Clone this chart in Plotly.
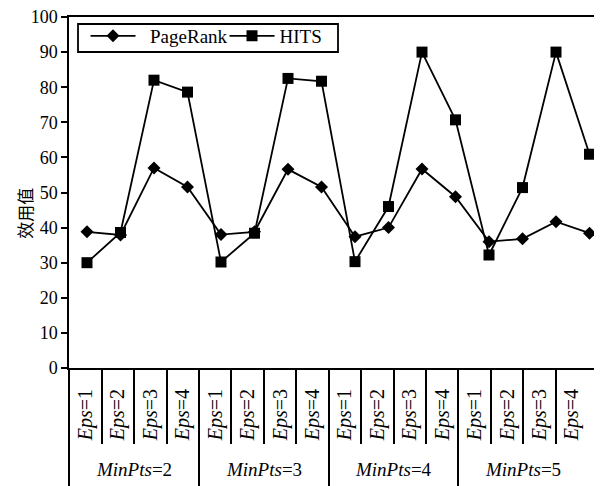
import plotly.graph_objects as go

# ---- data ----
eps_labels = ["Eps=1", "Eps=2", "Eps=3", "Eps=4"]
minpts_labels = ["MinPts=2", "MinPts=3", "MinPts=4", "MinPts=5"]
pagerank = [38.8, 37.9, 57.0, 51.6, 38.0, 38.8, 56.6, 51.6,
            37.4, 40.0, 56.7, 48.8, 36.0, 36.8, 41.7, 38.4]
hits = [30.0, 38.6, 82.0, 78.6, 30.2, 38.4, 82.5, 81.7,
        30.3, 46.0, 90.0, 70.7, 32.2, 51.4, 90.0, 60.9]
y_ticks = list(range(0, 101, 10))

n_eps = len(eps_labels)
n = len(pagerank)
xpos = list(range(n))
eps_text = ["<i>" + e.split("=")[0] + "</i>=" + e.split("=")[1] for _ in minpts_labels for e in eps_labels]

SERIF = "Liberation Serif"
BLACK = "#000000"
NB = "\u00a0"

fig = go.Figure()
fig.add_trace(go.Scatter(
    x=xpos, y=pagerank, name=NB * 2 + "PageRank", mode="lines+markers",
    line=dict(color=BLACK, width=1.8),
    marker=dict(symbol="diamond", size=10, color=BLACK),
))
fig.add_trace(go.Scatter(
    x=xpos, y=hits, name="HITS", mode="lines+markers",
    line=dict(color=BLACK, width=1.8),
    marker=dict(symbol="square", size=11, color=BLACK),
))
for ax in ["x2", "x3", "x4"]:
    fig.add_trace(go.Scatter(x=xpos, y=[None] * n, xaxis=ax, yaxis="y",
                             mode="markers", showlegend=False, hoverinfo="skip"))

t_r0 = -0.509
t_r1 = 15.926

fig.update_layout(
    width=594, height=478,
    margin=dict(l=61, r=0, t=9, b=118),
    paper_bgcolor="white", plot_bgcolor="white",
    font=dict(family=SERIF, size=18, color=BLACK),
    showlegend=True,
    legend=dict(
        orientation="h", x=0.031, y=1.0, xanchor="left", yanchor="top",
        borderwidth=0, bgcolor="rgba(0,0,0,0)",
        itemwidth=45, entrywidth=79, entrywidthmode="pixels",
        font=dict(family=SERIF, size=19, color=BLACK),
    ),
    xaxis=dict(
        range=[-0.537, 15.373], showline=True, mirror=True, linecolor=BLACK,
        linewidth=1.5, ticks="", showticklabels=False, showgrid=False,
        zeroline=False, automargin=False,
    ),
    xaxis2=dict(
        overlaying="x", anchor="y", side="bottom", range=[t_r0, t_r1],
        tickmode="array", tickvals=xpos, ticktext=eps_text, tickangle=-90,
        ticks="outside", ticklen=12, tickcolor="rgba(0,0,0,0)",
        tickfont=dict(family=SERIF, size=20, color=BLACK),
        showline=False, showgrid=False, zeroline=False, automargin=False,
    ),
    xaxis3=dict(
        overlaying="x", anchor="y", side="bottom", range=[t_r0, t_r1],
        tickmode="array", tickvals=[k + 0.5 for k in range(n - 1)],
        ticks="outside", ticklen=75, tickwidth=1.5, tickcolor=BLACK,
        showticklabels=False, showline=False, showgrid=False,
        zeroline=False, automargin=False,
    ),
    xaxis4=dict(
        overlaying="x", anchor="y", side="bottom", range=[t_r0, t_r1],
        tickmode="array", tickvals=[k * n_eps - 0.5 for k in range(len(minpts_labels))],
        ticks="outside", ticklen=125, tickwidth=1.5, tickcolor=BLACK,
        showticklabels=False, showline=False, showgrid=False,
        zeroline=False, automargin=False,
    ),
    yaxis=dict(
        range=[0, 100], tickmode="array", tickvals=y_ticks,
        ticks="outside", ticklen=6, tickwidth=1.5, tickcolor=BLACK,
        showline=True, linecolor=BLACK, linewidth=1.5,
        showgrid=False, zeroline=False, automargin=False,
        ticklabeloverflow="allow",
        tickfont=dict(family=SERIF, size=18, color=BLACK),
    ),
)

# legend frame
fig.add_shape(type="rect", xref="paper", yref="paper",
              x0=0.0169, x1=0.5047, y0=0.9003, y1=0.98,
              line=dict(color=BLACK, width=1.8), fillcolor="white", layer="above")

for g, lab in enumerate(minpts_labels):
    name, val = lab.split("=")
    fig.add_annotation(
        x=g * n_eps + (n_eps - 1) / 2, xref="x2", y=-0.29, yref="paper",
        text="<i>" + name + "</i>=" + val, showarrow=False,
        font=dict(family=SERIF, size=19, color=BLACK),
        xanchor="center", yanchor="middle",
    )

fig.add_annotation(
    x=-0.084, xref="paper", y=0.44, yref="paper", text="效用值",
    textangle=-90, showarrow=False, xanchor="center", yanchor="middle",
    font=dict(family="Noto Sans CJK SC", size=17, color=BLACK),
)

fig.write_html("out.html")
